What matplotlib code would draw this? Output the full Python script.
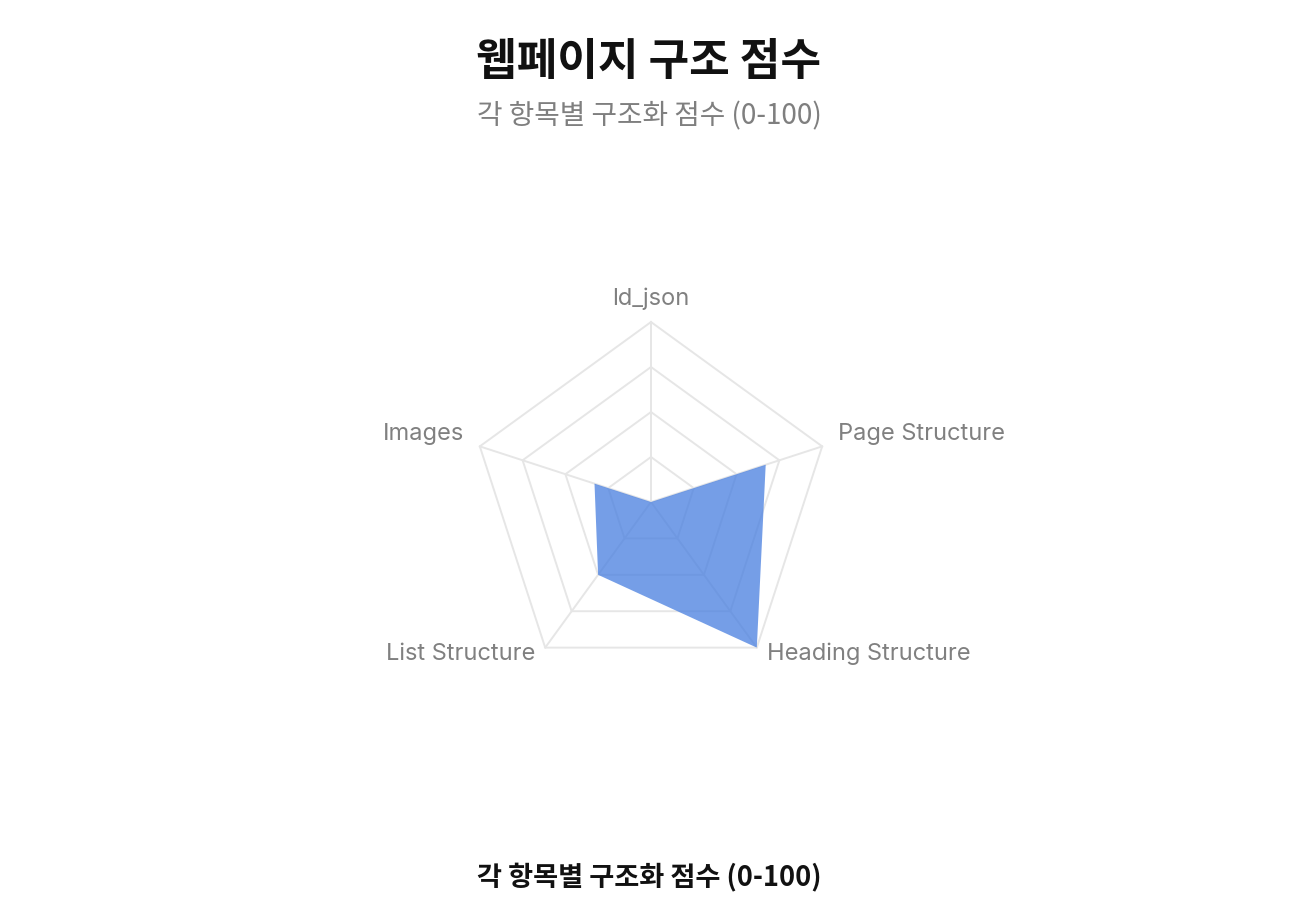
import numpy as np
import matplotlib
matplotlib.use("Agg")
import matplotlib.pyplot as plt
from matplotlib.transforms import offset_copy

plt.rcParams['font.family'] = ['Noto Sans CJK KR', 'DejaVu Sans']

title = "웹페이지 구조 점수"
subtitle = "각 항목별 구조화 점수 (0-100)"
caption = "각 항목별 구조화 점수 (0-100)"
categories = ["ld_json", "Page Structure", "Heading Structure", "List Structure", "Images"]
scores = [0, 67, 100, 50, 33]
ring_levels = [25, 50, 75, 100]

W, H = 1298, 910
fig = plt.figure(figsize=(W / 100, H / 100), dpi=100)
fig.patch.set_facecolor("white")

cx, cy, R = 651, 502, 180
ax = fig.add_axes([(cx - R) / W, (H - cy - R) / H, 2 * R / W, 2 * R / H], projection="polar")
ax.set_theta_offset(np.pi / 2)
ax.set_theta_direction(-1)
ax.set_ylim(0, 100)
ax.axis("off")

n = len(categories)
angles = np.linspace(0, 2 * np.pi, n, endpoint=False)
closed = np.concatenate([angles, angles[:1]])

grid_c = "#e6e6e6"
for lv in ring_levels:
    ax.plot(closed, [lv] * (n + 1), color=grid_c, lw=1.4, zorder=1, clip_on=False)
for a in angles:
    ax.plot([a, a], [0, 100], color=grid_c, lw=1.4, zorder=1, clip_on=False)

vals = np.array(scores + scores[:1], dtype=float)
ax.fill(closed, vals, color=(0.29, 0.50, 0.88), alpha=0.76, lw=0, zorder=2)

offsets = [(0, 23, "center"), (16, 12, "left"), (10, -6, "left"), (-10, -6, "right"), (-16, 12, "right")]
for a, lab, (dx, dy, ha) in zip(angles, categories, offsets):
    tr = offset_copy(ax.transData, fig=fig, x=dx, y=dy, units="dots")
    ax.text(a, 100, lab, transform=tr, ha=ha, va="center", fontsize=17,
            color="#808080", family=["Inter", "DejaVu Sans"], clip_on=False)

fig.text(0.5, 1 - 62 / H, title, ha="center", va="center", fontsize=31.8,
         fontweight="bold", color="#111111")
fig.text(0.5, 1 - 116 / H, subtitle, ha="center", va="center", fontsize=20,
         color="#7f7f7f")
fig.text(0.5, 1 - 878 / H, caption, ha="center", va="center", fontsize=19.6,
         fontweight="bold", color="#111111")

fig.savefig("out.png", dpi=100, facecolor="white")
